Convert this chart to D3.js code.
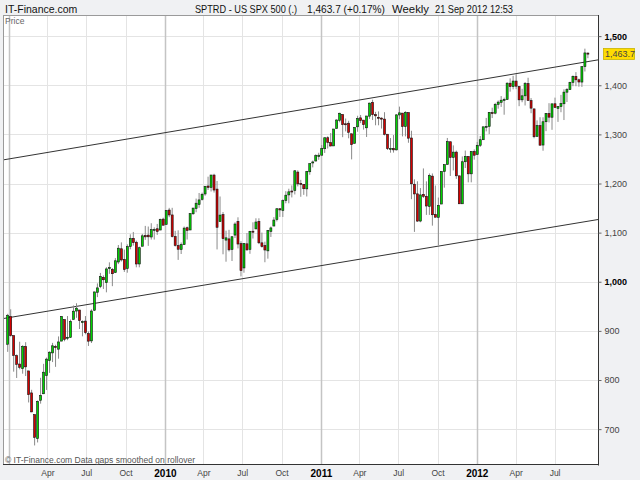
<!DOCTYPE html>
<html><head><meta charset="utf-8">
<script src="https://cdn.jsdelivr.net/npm/d3@7"></script>
<style>
body{margin:0;background:#f0f1f3;}
svg{display:block;font-family:"Liberation Sans",Arial,sans-serif;}
</style>
</head><body>
<svg id="chart" width="640" height="480"></svg>
<script>
// ---------- DATA ----------
const weeks = [
"2008-12-29",
"2009-01-05","2009-01-12","2009-01-19","2009-01-26","2009-02-02","2009-02-09","2009-02-16","2009-02-23","2009-03-02","2009-03-09","2009-03-16","2009-03-23","2009-03-30","2009-04-06","2009-04-13","2009-04-20","2009-04-27","2009-05-04","2009-05-11","2009-05-18","2009-05-25","2009-06-01","2009-06-08","2009-06-15","2009-06-22","2009-06-29","2009-07-06","2009-07-13","2009-07-20","2009-07-27","2009-08-03","2009-08-10","2009-08-17","2009-08-24","2009-08-31","2009-09-07","2009-09-14","2009-09-21","2009-09-28","2009-10-05","2009-10-12","2009-10-19","2009-10-26","2009-11-02","2009-11-09","2009-11-16","2009-11-23","2009-11-30","2009-12-07","2009-12-14","2009-12-21","2009-12-28",
"2010-01-04","2010-01-11","2010-01-18","2010-01-25","2010-02-01","2010-02-08","2010-02-15","2010-02-22","2010-03-01","2010-03-08","2010-03-15","2010-03-22","2010-03-29","2010-04-05","2010-04-12","2010-04-19","2010-04-26","2010-05-03","2010-05-10","2010-05-17","2010-05-24","2010-05-31","2010-06-07","2010-06-14","2010-06-21","2010-06-28","2010-07-05","2010-07-12","2010-07-19","2010-07-26","2010-08-02","2010-08-09","2010-08-16","2010-08-23","2010-08-30","2010-09-06","2010-09-13","2010-09-20","2010-09-27","2010-10-04","2010-10-11","2010-10-18","2010-10-25","2010-11-01","2010-11-08","2010-11-15","2010-11-22","2010-11-29","2010-12-06","2010-12-13","2010-12-20","2010-12-27",
"2011-01-03","2011-01-10","2011-01-17","2011-01-24","2011-01-31","2011-02-07","2011-02-14","2011-02-21","2011-02-28","2011-03-07","2011-03-14","2011-03-21","2011-03-28","2011-04-04","2011-04-11","2011-04-18","2011-04-25","2011-05-02","2011-05-09","2011-05-16","2011-05-23","2011-05-30","2011-06-06","2011-06-13","2011-06-20","2011-06-27","2011-07-04","2011-07-11","2011-07-18","2011-07-25","2011-08-01","2011-08-08","2011-08-15","2011-08-22","2011-08-29","2011-09-05","2011-09-12","2011-09-19","2011-09-26","2011-10-03","2011-10-10","2011-10-17","2011-10-24","2011-10-31","2011-11-07","2011-11-14","2011-11-21","2011-11-28","2011-12-05","2011-12-12","2011-12-19","2011-12-26",
"2012-01-02","2012-01-09","2012-01-16","2012-01-23","2012-01-30","2012-02-06","2012-02-13","2012-02-20","2012-02-27","2012-03-05","2012-03-12","2012-03-19","2012-03-26","2012-04-02","2012-04-09","2012-04-16","2012-04-23","2012-04-30","2012-05-07","2012-05-14","2012-05-21","2012-05-28","2012-06-04","2012-06-11","2012-06-18","2012-06-25","2012-07-02","2012-07-09","2012-07-16","2012-07-23","2012-07-30","2012-08-06","2012-08-13","2012-08-20","2012-08-27","2012-09-03","2012-09-10","2012-09-17"
];

const opens = [
872.8,
929.2,890.4,849.6,832.5, 823.1,868.2,818.5,773.7, 729.6,680.8,758.8,772.0,809.1, 839.8,855.2,868.3,862.8, 879.2,923.0,886.1,887.0, 923.3,940.4,942.5,918.1,919.9, 894.3,879.6,942.1,978.6, 990.2,1008.9,998.2,1026.6,1025.2, 1018.7,1040.2,1067.1,1045.4, 1026.9,1071.6,1088.2,1080.4, 1036.2,1072.3,1094.1,1094.9,1091.1, 1105.5,1107.9,1105.3,1127.5,
1116.6,1146.0,1136.0,1092.0, 1073.9,1065.5,1075.5,1110.0, 1105.4,1138.4,1149.0,1157.2,1167.7, 1178.7,1194.9,1192.1,1217.1, 1188.6,1122.3,1136.5,1084.8,1087.3, 1065.8,1095.0,1122.8,1077.5, 1028.1,1077.2,1066.0,1102.9, 1107.5,1122.8,1079.2,1073.4,1062.9, 1102.6,1113.4,1126.6,1148.6, 1145.0,1165.3,1176.8,1184.7, 1185.7,1223.2,1200.4,1198.1,1189.1, 1223.9,1241.8,1245.8,1254.7,
1257.6,1270.8,1293.2,1283.3,1276.5, 1311.9,1328.7,1340.4,1321.6, 1322.7,1301.2,1281.7,1315.4, 1333.6,1329.0,1313.4,1337.1, 1365.2,1340.2,1334.8,1333.1,1331.1, 1300.3,1271.3,1271.5,1268.4, 1339.6,1343.3,1315.9,1344.3, 1292.6,1198.5,1178.9,1123.6,1177.9, 1174.0,1153.5,1215.0,1136.9, 1131.2,1158.2,1224.5,1238.7,1285.0, 1253.2,1263.9,1215.6,1158.7, 1244.3,1255.1,1219.7,1265.0,
1258.9,1277.8,1289.1,1315.3,1316.2, 1344.3,1343.1,1361.2,1365.2, 1369.6,1370.8,1404.2,1397.1, 1408.5,1397.5,1370.3,1378.5,1403.3, 1368.8,1351.9,1295.7,1317.8, 1278.3,1325.7,1342.4,1334.9, 1362.3,1353.0,1356.5,1362.3,1385.9, 1391.0,1405.9,1417.9,1411.1, 1406.5,1437.9,1465.4
];

const highs = [
934.7,
943.9,890.4,852.0,877.9, 870.8,877.0,818.5,780.1, 729.6,758.3,804.5,832.9,845.6, 858.4,875.6,871.8,888.7, 930.2,923.0,930.2,923.0, 951.7,956.2,942.5,921.4,930.2, 898.7,943.9,979.8,996.7, 1018.0,1012.9,1029.6,1039.5,1028.0, 1048.2,1074.8,1080.2,1065.4, 1076.2,1096.6,1101.4,1083.7, 1071.5,1097.4,1113.7,1112.4,1119.1, 1110.7,1117.7,1128.5,1130.4,
1145.4,1150.4,1150.5,1103.7, 1104.7,1080.0,1112.4,1112.3, 1139.0,1150.2,1169.3,1180.7,1181.4, 1194.7,1213.9,1217.3,1219.8, 1205.1,1173.6,1141.9,1104.0,1105.7, 1093.0,1121.0,1131.2,1082.6, 1078.2,1099.1,1103.7,1121.0, 1129.2,1129.2,1100.1,1081.6,1105.1, 1112.4,1131.5,1148.9,1149.9, 1167.7,1184.4,1189.4,1196.1, 1227.1,1226.8,1207.4,1198.9,1225.6, 1240.4,1246.7,1259.4,1262.6,
1278.2,1293.2,1296.1,1302.7,1311.0, 1330.8,1344.1,1340.4,1332.3, 1327.7,1301.2,1314.8,1337.9, 1339.5,1329.0,1337.5,1364.6, 1370.6,1345.9,1346.8,1334.6,1345.2, 1300.3,1292.5,1298.6,1341.0, 1356.5,1343.3,1347.0,1344.3, 1307.4,1208.5,1204.5,1190.7,1230.7, 1204.4,1220.4,1220.4,1195.9, 1171.4,1224.6,1238.5,1292.7,1285.0, 1277.6,1267.0,1215.6,1255.1, 1267.1,1255.1,1265.4,1269.4,
1284.6,1296.8,1315.5,1333.5,1345.1, 1354.3,1364.2,1368.9,1378.0, 1374.8,1406.0,1414.0,1419.2, 1422.4,1397.5,1392.8,1406.6,1415.3, 1373.9,1351.9,1328.5,1334.9, 1334.8,1343.3,1363.5,1362.2, 1374.8,1356.8,1380.4,1391.7,1394.2, 1407.1,1420.0,1426.7,1413.5, 1438.0,1474.5,1467.0
];

const lows = [
857.3,
888.3,817.0,804.1,821.7, 812.9,808.1,754.3,734.5, 666.8,672.9,751.9,771.3,779.8, 814.5,836.5,826.8,843.4, 879.2,878.9,881.1,885.6, 923.3,926.6,903.8,888.9,893.0, 869.3,875.3,940.4,968.7, 987.0,985.4,978.5,1016.2,991.0, 1017.7,1035.9,1041.2,1020.0, 1018.4,1066.1,1073.6,1029.4, 1029.4,1072.3,1085.3,1073.1,1085.9, 1085.9,1095.4,1105.3,1114.8,
1116.6,1131.4,1090.2,1071.6, 1044.5,1056.5,1075.5,1086.0, 1105.4,1136.2,1141.5,1150.6,1165.3, 1175.1,1186.8,1183.7,1181.6, 1065.8,1122.3,1055.9,1040.8,1061.5, 1042.2,1089.0,1067.9,1010.9, 1018.4,1063.3,1056.9,1088.0, 1107.5,1076.6,1069.5,1039.7,1047.0, 1091.2,1113.4,1122.8,1131.9, 1131.9,1159.7,1159.7,1171.7, 1177.7,1194.1,1173.0,1176.9,1173.6, 1217.8,1232.8,1244.7,1248.3,
1257.6,1262.2,1271.3,1275.8,1276.5, 1311.7,1324.6,1294.3,1306.1, 1292.0,1249.1,1281.7,1305.3, 1322.9,1309.7,1294.7,1331.5, 1329.2,1318.5,1318.5,1311.8,1297.9, 1268.2,1262.7,1262.9,1267.5, 1330.9,1295.9,1295.9,1282.9, 1168.1,1101.5,1121.9,1121.1,1170.5, 1136.1,1136.1,1114.2,1131.1, 1074.8,1158.2,1191.5,1238.7,1215.4, 1226.6,1209.4,1158.7,1158.7, 1231.5,1202.4,1202.4,1248.6,
1258.9,1274.4,1289.1,1306.1,1300.5, 1333.2,1340.8,1352.3,1355.9, 1340.0,1370.8,1386.9,1391.6, 1392.1,1357.4,1365.4,1358.8,1368.0, 1343.1,1292.0,1295.7,1277.3, 1266.7,1306.6,1324.4,1309.3, 1354.7,1325.4,1345.1,1329.2,1365.9, 1391.0,1398.0,1398.0,1397.0, 1396.6,1428.0,1455.0
];

const closes = [
931.8,
890.4,850.1,832.0,825.9, 868.6,826.8,770.1,735.1, 683.4,756.6,768.5,815.9,842.5, 856.6,869.6,866.2,877.5, 929.2,882.9,887.0,919.1, 940.1,946.2,921.2,918.9,896.4, 879.1,940.4,979.3,987.5, 1010.5,1004.1,1026.1,1028.9,1016.4, 1042.7,1068.3,1044.4,1025.2, 1071.5,1087.7,1079.6,1036.2, 1069.3,1093.5,1091.4,1091.5,1106.0, 1106.4,1102.5,1126.5,1115.1,
1145.0,1136.0,1091.8,1073.9, 1066.2,1075.5,1109.2,1104.5, 1138.7,1150.0,1159.9,1166.6,1178.1, 1194.4,1192.1,1217.3,1186.7, 1110.9,1135.7,1087.7,1089.4,1064.9, 1091.6,1117.5,1076.8,1022.6, 1078.0,1064.9,1102.7,1101.6, 1121.6,1079.3,1071.7,1064.6,1104.5, 1109.6,1125.6,1148.7,1146.2, 1165.2,1176.2,1183.1,1183.3, 1225.9,1199.2,1199.7,1189.4,1224.7, 1240.4,1243.9,1256.8,1257.6,
1271.5,1293.2,1283.4,1276.3,1310.9, 1329.2,1343.0,1319.9,1321.2, 1304.3,1279.2,1313.8,1332.4, 1328.2,1319.7,1337.4,1363.6, 1340.2,1337.8,1333.3,1331.1,1300.2, 1271.0,1271.5,1268.5,1339.7, 1343.8,1316.1,1345.0,1292.3, 1199.4,1178.8,1123.5,1176.8,1174.0, 1154.2,1216.0,1136.4,1131.4, 1155.5,1224.6,1238.3,1285.1,1253.2, 1263.9,1215.7,1158.7,1244.3, 1255.2,1219.7,1265.3,1257.6,
1277.8,1289.1,1315.4,1316.3,1344.9, 1342.6,1361.2,1365.7,1369.6, 1370.9,1404.2,1397.1,1408.5, 1398.1,1370.3,1378.5,1403.4,1369.1, 1353.4,1295.2,1317.8,1278.0, 1325.7,1342.8,1335.0,1362.2, 1354.7,1356.8,1362.7,1386.0,1391.0, 1405.9,1418.2,1411.1,1406.6, 1437.9,1465.8,1463.7
];

const yTicks = [700, 800, 900, 1000, 1100, 1200, 1300, 1400, 1500];
const yBoldTicks = [1000, 1500];
const xTickDates = ["2009-01-01","2009-04-01","2009-07-01","2009-10-01","2010-01-01","2010-04-01","2010-07-01","2010-10-01","2011-01-01","2011-04-01","2011-07-01","2011-10-01","2012-01-01","2012-04-01","2012-07-01"];
const xTickLabels = ["","Apr","Jul","Oct","2010","Apr","Jul","Oct","2011","Apr","Jul","Oct","2012","Apr","Jul"];
const channelDates = ["2008-12-18","2012-10-13"];
const upperChannel = [1248, 1452];
const lowerChannel = [925, 1127];
const lastPrice = 1463.7;
const headerLeft = "IT-Finance.com";
const headerParts = ["SPTRD - US SPX 500 (.)", "1,463.7 (+0.17%)", "Weekly", "21 Sep 2012 12:53"];
const footerText = "\u00A9 IT-Finance.com  Data gaps smoothed on rollover";

// ---------- CHART ----------
const parse = d3.timeParse("%Y-%m-%d");
const L = 3, R = 599, T = 15, B = 465;
const svg = d3.select("#chart");

const x = d3.scaleTime().domain([parse("2008-12-18"), parse("2012-10-13")]).range([L, R]);
const y = d3.scaleLinear().domain([627, 1543]).range([B, T]);

const candles = weeks.map((w, i) => ({date: parse(w), o: opens[i], h: highs[i], l: lows[i], c: closes[i]}));

// plot background
svg.append("rect").attr("x", L).attr("y", T).attr("width", R - L).attr("height", B - T).attr("fill", "#fff");

svg.append("clipPath").attr("id", "plotclip").append("rect")
  .attr("x", L).attr("y", T).attr("width", R - L).attr("height", B - T);

const grid = svg.append("g");
grid.selectAll("line.h").data(yTicks).join("line")
  .attr("x1", L).attr("x2", R)
  .attr("y1", d => Math.round(y(d)) + 0.5).attr("y2", d => Math.round(y(d)) + 0.5)
  .attr("stroke", "#e4e4e4");
grid.selectAll("line.v").data(xTickDates).join("line")
  .attr("x1", d => Math.round(x(parse(d))) + 0.5).attr("x2", d => Math.round(x(parse(d))) + 0.5)
  .attr("y1", T).attr("y2", B)
  .attr("stroke", d => d.endsWith("-01-01") ? "#c4c4c4" : "#e4e4e4")
  .attr("stroke-width", d => d.endsWith("-01-01") ? 1.5 : 1);

svg.append("text").attr("x", 5).attr("y", 24).attr("font-size", 8.5).attr("fill", "#666").text("Price");

const line = d3.line().x(d => x(d[0])).y(d => y(d[1]));
const plot = svg.append("g").attr("clip-path", "url(#plotclip)");
plot.append("path")
  .attr("d", line(channelDates.map((d, i) => [parse(d), upperChannel[i]])))
  .attr("stroke", "#333").attr("fill", "none").attr("stroke-width", 1);
plot.append("path")
  .attr("d", line(channelDates.map((d, i) => [parse(d), lowerChannel[i]])))
  .attr("stroke", "#333").attr("fill", "none").attr("stroke-width", 1);

const cg = plot.append("g");
cg.selectAll("line.wick").data(candles).join("line")
  .attr("x1", d => x(d.date)).attr("x2", d => x(d.date))
  .attr("y1", d => y(d.h)).attr("y2", d => y(d.l))
  .attr("stroke", "#8a8a8a").attr("stroke-width", 1);
cg.selectAll("rect.body").data(candles).join("rect")
  .attr("x", d => x(d.date) - 1)
  .attr("width", 2)
  .attr("y", d => y(Math.max(d.o, d.c)))
  .attr("height", d => Math.max(1, Math.abs(y(d.o) - y(d.c))))
  .attr("fill", d => d.c >= d.o ? "#00d400" : "#d40000")
  .attr("stroke", "#111").attr("stroke-width", 0.6);

svg.append("rect").attr("x", L + 0.5).attr("y", T + 0.5).attr("width", R - L - 1).attr("height", B - T - 1)
  .attr("fill", "none").attr("stroke", "#9a9a9a");
svg.append("line").attr("x1", R - 0.5).attr("x2", R - 0.5).attr("y1", T).attr("y2", B + 0.5).attr("stroke", "#333");
svg.append("line").attr("x1", L).attr("x2", R).attr("y1", B - 0.5).attr("y2", B - 0.5).attr("stroke", "#333");

const yAxis = svg.append("g").attr("transform", `translate(${R - 0.5},0)`)
  .call(d3.axisRight(y).tickValues(yTicks).tickSize(3).tickPadding(3).tickFormat(d3.format(",")));
yAxis.select(".domain").remove();
yAxis.selectAll(".tick line").attr("stroke", "#666");
yAxis.selectAll(".tick text")
  .attr("font-family", "'Liberation Sans',Arial,sans-serif")
  .attr("font-size", 9)
  .attr("fill", d => yBoldTicks.includes(d) ? "#000" : "#444")
  .attr("font-weight", d => yBoldTicks.includes(d) ? "bold" : "normal");

const ly = y(lastPrice);
svg.append("rect").attr("x", 603.5).attr("y", ly - 5.5).attr("width", 31).attr("height", 11)
  .attr("fill", "#ffdc00").attr("stroke", "#c8b400").attr("stroke-width", 0.8);
svg.append("text").attr("x", 605).attr("y", ly + 3.5).attr("font-size", 9).attr("fill", "#444").text(d3.format(",.1f")(lastPrice));

const xAxis = svg.append("g").attr("transform", `translate(0,${B})`)
  .call(d3.axisBottom(x).tickValues(xTickDates.map(parse)).tickSize(0).tickPadding(5)
    .tickFormat((d, i) => xTickLabels[i]));
xAxis.select(".domain").remove();
xAxis.selectAll(".tick text")
  .attr("font-family", "'Liberation Sans',Arial,sans-serif")
  .attr("font-size", (d, i) => /^\d{4}$/.test(xTickLabels[i]) ? 10 : 8.5)
  .attr("font-weight", (d, i) => /^\d{4}$/.test(xTickLabels[i]) ? "bold" : "normal")
  .attr("fill", (d, i) => /^\d{4}$/.test(xTickLabels[i]) ? "#000" : "#444");

// header
svg.append("text").attr("x", 5).attr("y", 13).attr("font-size", 10.5).attr("fill", "#111").text(headerLeft);
const hx = [195, 307, 392, 435];
const hw = [102, 78, 37, 78];
headerParts.forEach((t, i) => {
  svg.append("text").attr("x", hx[i]).attr("y", 13).attr("font-size", 10.5).attr("fill", "#111")
    .attr("textLength", hw[i]).attr("lengthAdjust", "spacingAndGlyphs").text(t);
});

svg.append("text").attr("x", 5).attr("y", 463).attr("font-size", 8.5).attr("fill", "#555").text(footerText);
</script>
</body></html>
